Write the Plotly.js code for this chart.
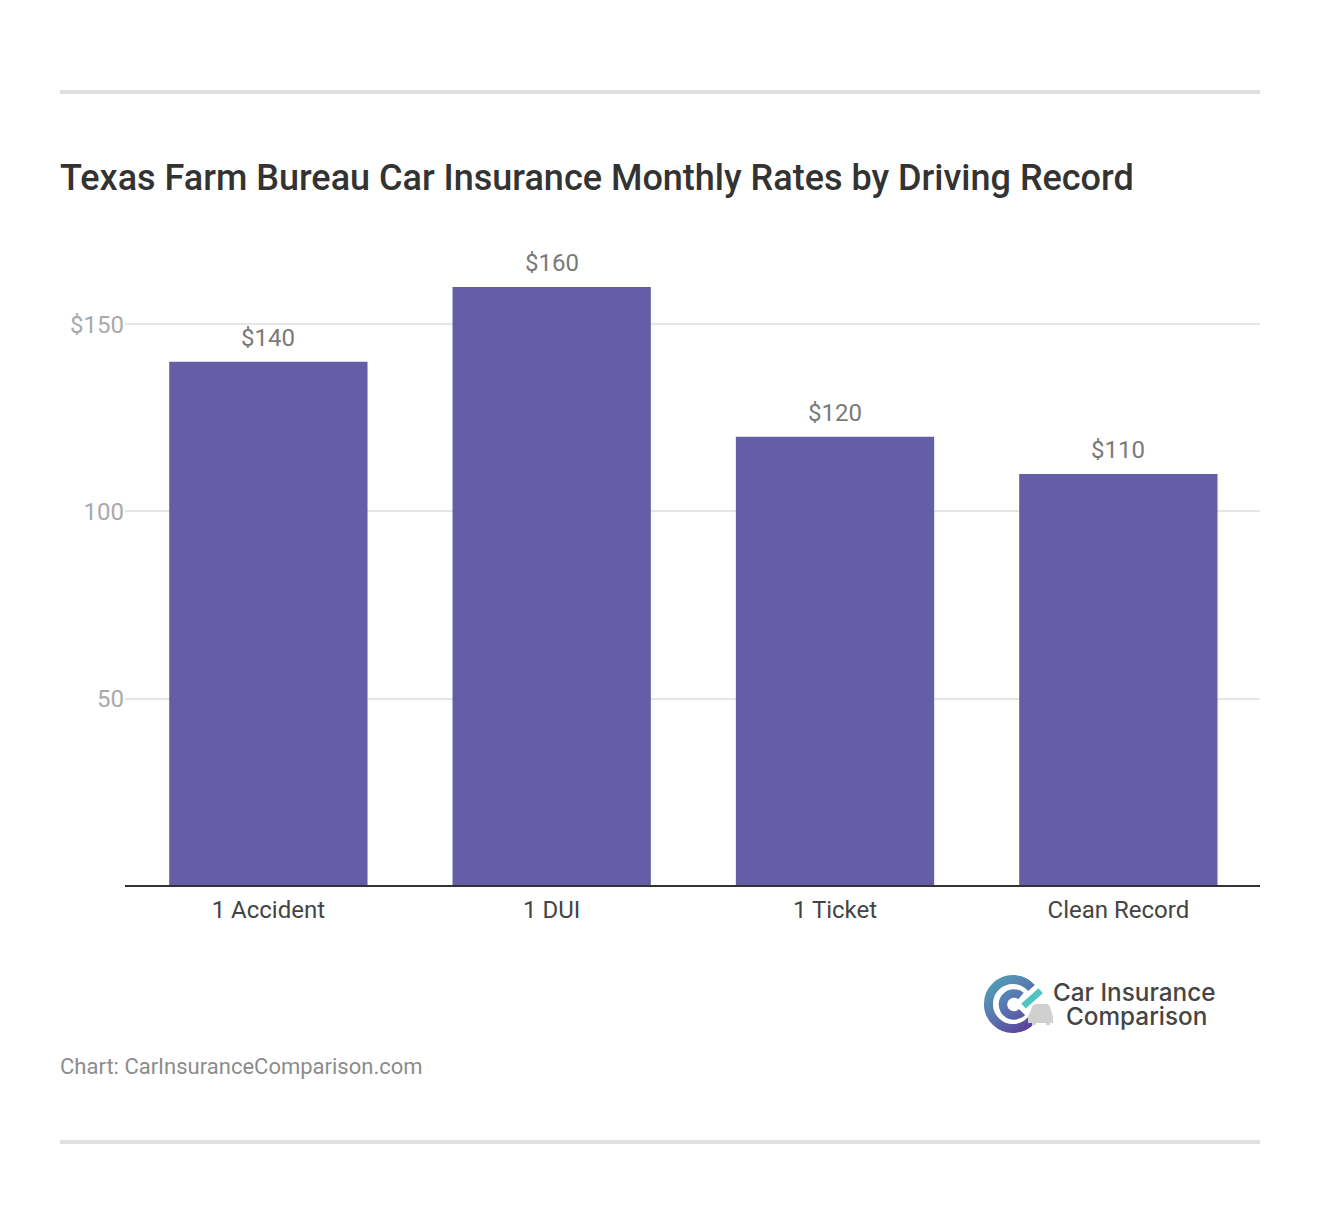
<!DOCTYPE html>
<html>
<head>
<meta charset="utf-8">
<script src="https://cdn.plot.ly/plotly-3.0.1.min.js"></script>
<style>html,body{margin:0;padding:0;background:#fff}#chart{width:1320px;height:1224px}</style>
</head>
<body>
<div id="chart"></div>
<script>
const categories = ["1 Accident", "1 DUI", "1 Ticket", "Clean Record"];
const rates = [140, 160, 120, 110];
const rateLabels = ["$140", "$160", "$120", "$110"];
const yTickValues = [50, 100, 150];
const yTickLabels = ["50", "100", "$150"];
const chartTitle = "Texas Farm Bureau Car Insurance Monthly Rates by Driving Record";
const footerText = "Chart: CarInsuranceComparison.com";
const logoLines = ["Car Insurance", "Comparison"];

const W = 1320, H = 1224, L = 125, R = 60, T = 250, B = 338;
const pw = W - L - R, ph = H - T - B;
const px = x => (x - L) / pw;
const py = y => (H - B - y) / ph;

const logoSvg = `<svg xmlns="http://www.w3.org/2000/svg" width="80" height="68" viewBox="0 0 80 68">
<defs><linearGradient id="g" gradientUnits="userSpaceOnUse" x1="6" y1="8" x2="48" y2="60"><stop offset="0" stop-color="#4fa6b8"/><stop offset="0.5" stop-color="#5a78b0"/><stop offset="1" stop-color="#5b3f9c"/></linearGradient></defs>
<path d="M 51.5 18 A 24.5 24.5 0 1 0 51.5 50" fill="none" stroke="url(#g)" stroke-width="9"/>
<path d="M 41 26 A 11 11 0 1 0 42 42" fill="none" stroke="url(#g)" stroke-width="8.5"/>
<path d="M 43.5 36 L 60.7 20.7" fill="none" stroke="#4fc4c2" stroke-width="6.5"/>
<path d="M 48 47 L 52 37 Q 53 34 56 34 L 66 34 Q 69 34 70 37 L 73 47 L 73 53 L 70 53 L 70 55 L 66 55 L 66 53 L 56 53 L 56 55 L 52 55 L 52 53 L 48 53 Z" fill="#d0d0d0"/>
</svg>`;

const annotations = categories.map((c, i) => ({
  x: c, y: rates[i], xref: "x", yref: "y", text: rateLabels[i], showarrow: false,
  yanchor: "bottom", yshift: 8,
  font: {family: "Roboto, sans-serif", size: 24, color: "#7a7a7a"}
}));
annotations.push({
  xref: "paper", yref: "paper", x: px(57.5), y: py(1066.5), xanchor: "left", yanchor: "middle",
  text: footerText, showarrow: false,
  font: {family: "Roboto, sans-serif", size: 22, color: "#8c8c8c"}
});
annotations.push({
  xref: "paper", yref: "paper", x: px(1134), y: py(992), xanchor: "center", yanchor: "middle",
  text: logoLines[0], showarrow: false,
  font: {family: "Inter, sans-serif", size: 24.3, weight: 500, color: "#454545"}
});
annotations.push({
  xref: "paper", yref: "paper", x: px(1136.5), y: py(1016), xanchor: "center", yanchor: "middle",
  text: logoLines[1], showarrow: false,
  font: {family: "Inter, sans-serif", size: 24.3, weight: 500, color: "#454545"}
});

const rule = y => ({type: "line", xref: "paper", yref: "paper", x0: px(60), x1: px(1260), y0: py(y), y1: py(y),
  line: {color: "#e0e0e0", width: 4}});
const axisLine = {type: "line", xref: "paper", yref: "paper", x0: 0, x1: 1, y0: py(886), y1: py(886),
  line: {color: "#333333", width: 2}};

Plotly.newPlot("chart", [{
  type: "bar", x: categories, y: rates, marker: {color: "#655ea6"}, hoverinfo: "skip"
}], {
  width: W, height: H, paper_bgcolor: "#fff", plot_bgcolor: "#fff", showlegend: false,
  margin: {l: L, r: R, t: T, b: B, pad: 0},
  bargap: 0.3,
  title: {text: chartTitle, x: 60 / W, xanchor: "left", y: 1 - 177 / H, yanchor: "middle",
    font: {family: "Roboto, sans-serif", size: 36, weight: 500, color: "#333333"}},
  xaxis: {type: "category", categoryorder: "array", categoryarray: categories, range: [-0.506, 3.5],
    showline: false, showgrid: false, zeroline: false, ticks: "", ticklen: 0, ticklabelstandoff: 7,
    tickfont: {family: "Roboto, sans-serif", size: 24, color: "#444444"}},
  yaxis: {range: [-0.107, 169.893], tickmode: "array", tickvals: yTickValues, ticktext: yTickLabels,
    showgrid: true, gridcolor: "#e6e6e6", gridwidth: 2, zeroline: false, showline: false, ticks: "",
    ticklabelstandoff: 9.5,
    tickfont: {family: "Roboto, sans-serif", size: 24, color: "#aaaaaa"}},
  annotations: annotations,
  shapes: [rule(92), rule(1142), axisLine],
  images: [{source: "data:image/svg+xml;charset=utf-8," + encodeURIComponent(logoSvg),
    xref: "paper", yref: "paper", x: px(980), y: py(970), sizex: 80 / pw, sizey: 68 / ph,
    xanchor: "left", yanchor: "top", sizing: "stretch", layer: "above"}]
}, {displayModeBar: false, responsive: false});
</script>
</body>
</html>
